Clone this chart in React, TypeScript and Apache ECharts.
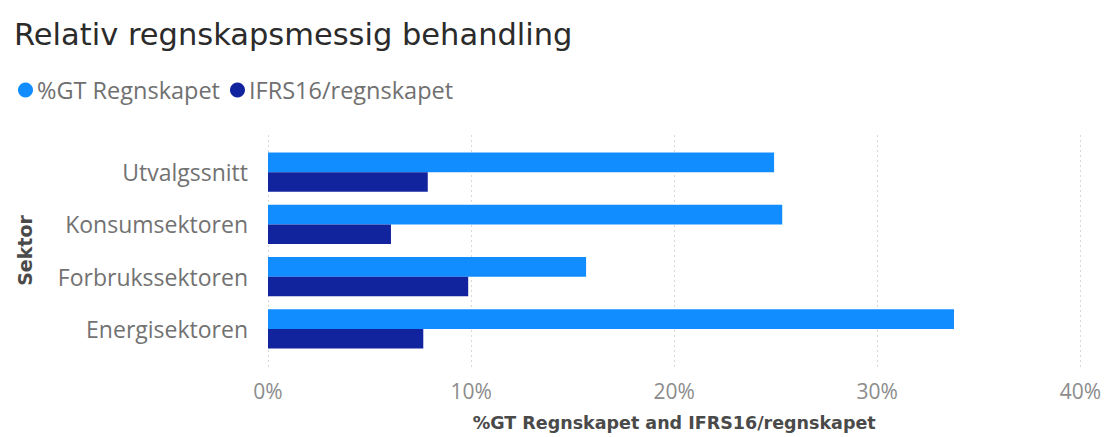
import React, { useEffect, useRef } from "react";
import * as echarts from "echarts";

const categories = ["Utvalgssnitt", "Konsumsektoren", "Forbrukssektoren", "Energisektoren"];
const gtRegnskapet = [24.9, 25.3, 15.65, 33.75];
const ifrs16 = [7.86, 6.05, 9.85, 7.64];
const seriesNames = ["%GT Regnskapet", "IFRS16/regnskapet"];
const xTicks = [0, 10, 20, 30, 40];

export default function App() {
  const ref = useRef<HTMLDivElement>(null);
  useEffect(() => {
    const chart = echarts.init(ref.current!, null, { renderer: "svg" });
    const xMin = xTicks[0];
    const xMax = xTicks[xTicks.length - 1];
    const xInt = xTicks[1] - xTicks[0];
    chart.setOption({
      animation: false,
      backgroundColor: "#ffffff",
      title: {
        text: "Relativ regnskapsmessig behandling",
        left: 9,
        top: 14,
        textStyle: { fontFamily: "DejaVu Sans", fontSize: 30.5, fontWeight: "normal", color: "#2b2b2b" },
      },
      legend: {
        left: 13,
        top: 73,
        icon: "circle",
        itemWidth: 15,
        itemHeight: 15,
        itemGap: 10,
        data: seriesNames,
        textStyle: { fontFamily: "Open Sans", fontSize: 23.5, color: "#707070", padding: [0, 0, 0, -1] },
      },
      grid: [
        { left: 268, right: 23, top: 146, bottom: 82 },
        { left: 268, right: 23, top: 135, bottom: 67 },
      ],
      xAxis: [
        { type: "value", gridIndex: 0, min: xMin, max: xMax, interval: xInt, show: false },
        {
          type: "value",
          gridIndex: 1,
          min: xMin,
          max: xMax,
          interval: xInt,
          axisLine: { show: false },
          axisTick: { show: false },
          splitLine: { show: true, lineStyle: { color: "#d8d8d8", type: [2, 3], width: 1 } },
          axisLabel: {
            formatter: (v: number) => v + "%",
            fontFamily: "Open Sans",
            fontSize: 21,
            color: "#8c8c8c",
            margin: 12,
          },
          name: "%GT Regnskapet and IFRS16/regnskapet",
          nameLocation: "middle",
          nameGap: 46,
          nameTextStyle: { fontFamily: "DejaVu Sans", fontSize: 17.5, fontWeight: "bold", color: "#4a4a4a" },
        },
      ],
      yAxis: [
        {
          type: "category",
          gridIndex: 0,
          data: categories,
          inverse: true,
          axisLine: { show: false },
          axisTick: { show: false },
          axisLabel: { fontFamily: "Open Sans", fontSize: 23, color: "#727272", margin: 20 },
          name: "Sektor",
          nameLocation: "middle",
          nameRotate: 90,
          nameGap: 234,
          nameTextStyle: { fontFamily: "DejaVu Sans", fontSize: 19, fontWeight: "bold", color: "#4a4a4a" },
        },
        { type: "category", gridIndex: 1, data: categories, show: false },
      ],
      series: [
        {
          name: seriesNames[0],
          type: "bar",
          xAxisIndex: 0,
          yAxisIndex: 0,
          data: gtRegnskapet,
          itemStyle: { color: "#118DFF" },
          barGap: "0%",
          barCategoryGap: "25%",
        },
        {
          name: seriesNames[1],
          type: "bar",
          xAxisIndex: 0,
          yAxisIndex: 0,
          data: ifrs16,
          itemStyle: { color: "#12239E" },
          barGap: "0%",
          barCategoryGap: "25%",
        },
      ],
    });
    return () => chart.dispose();
  }, []);
  return <div ref={ref} style={{ width: 1104, height: 437, position: "absolute", left: 0, top: 0 }} />;
}
